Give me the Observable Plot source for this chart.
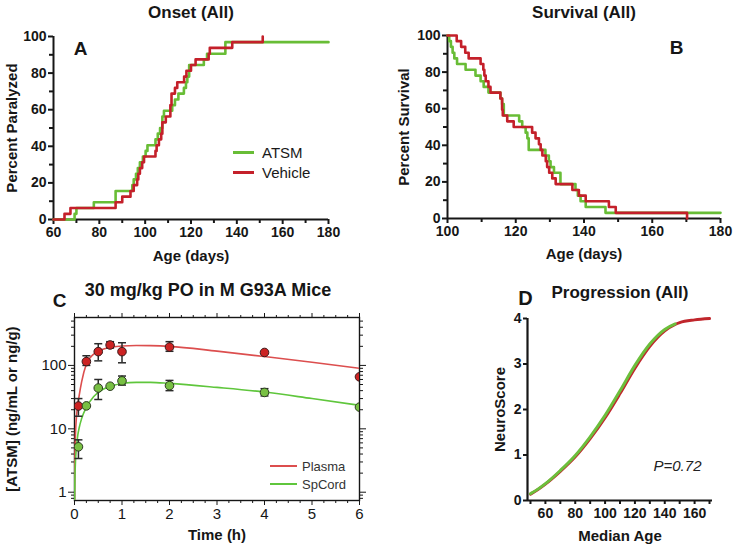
<!DOCTYPE html>
<html><head><meta charset="utf-8">
<script src="https://cdn.jsdelivr.net/npm/d3@7"></script>
<script src="https://cdn.jsdelivr.net/npm/@observablehq/plot@0.6"></script>
<style>
body{margin:0;background:#fff;font-family:"Liberation Sans",Arial,Helvetica,sans-serif;}
#fig{position:relative;width:733px;height:555px;overflow:hidden;background:#fff;}
.panel{position:absolute;}
.lg{position:absolute;display:flex;align-items:center;white-space:nowrap;height:18px;}
.lg .sw{display:inline-block;}
</style></head><body><div id="fig"></div>
<script>
// ---------- Panel A : Onset (All) ----------
const onsetTitle = "Onset (All)";
const onsetXDomain = [60, 180];
const onsetXMajor = [60, 80, 100, 120, 140, 160, 180];
const onsetXMinor = [70, 90, 110, 130, 150, 170];
const pctMajor = [0, 20, 40, 60, 80, 100];
const pctMinor = [10, 30, 50, 70, 90];
const onsetATSM = [[60,0],[69.2,3.1],[70,6.3],[77.6,9.4],[87.1,15.6],[94.4,18.8],[95,21.9],[96,25],[96.8,28.1],[97.7,31.3],[99,34.4],[100.2,37.5],[101,40.6],[104.5,43.8],[105.5,46.9],[106.5,50],[107.5,56.3],[108.2,59.4],[111.8,62.5],[113,65.6],[114.5,68.8],[116.9,71.9],[117.8,75],[118.4,78.1],[119.2,84.4],[125.6,87.5],[127,90.6],[135,96.9],[180,96.9]];
const onsetVehicle = [[60,0],[64.8,3.1],[67.4,6.3],[87.1,9.4],[90,12.5],[93.6,15.6],[95,18.8],[96.5,21.9],[97,25],[97.7,28.1],[98.7,31.3],[99.5,34.4],[104.5,37.5],[105,40.6],[106,43.8],[107,46.9],[107.5,53.1],[109,56.3],[111,62.5],[111.5,68.8],[113,71.9],[114,75],[117,78.1],[118,81.3],[120,84.4],[122,87.5],[127.7,90.6],[128.2,93.8],[138,96.9],[151.3,100]];
const groupNames = ["ATSM", "Vehicle"];

// ---------- Panel B : Survival (All) ----------
const survTitle = "Survival (All)";
const survXDomain = [100, 180];
const survXMajor = [100, 120, 140, 160, 180];
const survXMinor = [110, 130, 150, 170];
const survATSM = [[100,100],[100.5,96.9],[101,93.8],[101.5,90.6],[102,87.5],[102.8,84.4],[105.3,81.3],[108.2,78.1],[109.7,75],[110.6,71.9],[112,68.8],[115.5,65.6],[116,62.5],[116.5,56.3],[121,53.1],[121.9,50],[122.9,46.9],[123.4,43.8],[123.8,37.5],[128.7,34.4],[129.7,31.3],[130.2,28.1],[131.2,25],[133.1,18.8],[137.5,15.6],[138.2,12.5],[139,9.4],[140.5,6.3],[146.3,3.1],[180,3.1]];
const survVehicle = [[100,100],[102.7,96.9],[104,93.8],[105.2,90.6],[106.2,87.5],[109.7,84.4],[110.5,81.3],[110.8,78.1],[111.2,75],[112,71.9],[112.6,68.8],[115.5,65.6],[116,59.4],[116.2,56.3],[117.5,53.1],[119.4,50],[124.8,46.9],[125.8,43.8],[126.8,40.6],[127.3,37.5],[127.8,34.4],[128.8,31.3],[129.2,28.1],[129.8,25],[130.7,21.9],[131.7,18.8],[136.6,15.6],[138.5,12.5],[140.5,9.4],[147.3,6.3],[149.3,3.1],[170,3.1],[170.2,0]];

// ---------- Panel C : PK ----------
const pkTitle = "30 mg/kg PO in M G93A Mice";
const pkXMajor = [0, 1, 2, 3, 4, 5, 6];
const pkXMinor = [0.25,0.5,0.75,1.25,1.5,1.75,2.25,2.5,2.75,3.25,3.5,3.75,4.25,4.5,4.75,5.25,5.5,5.75];
const pkYMajor = [1, 10, 100];
const pkYMinor = [0.8,0.9,2,3,4,5,6,7,8,9,20,30,40,50,60,70,80,90,200,300,400,500];
const pkYDomain = [0.74, 570];
const pkTimes = [0.083, 0.25, 0.5, 0.75, 1, 2, 4, 6];
const plasmaMean = [22.9, 115, 165, 210, 165, 195, 160, 66];
const plasmaHi   = [30, 142, 220, 237, 228, 237, null, null];
const plasmaLo   = [15.8, 100, 118, 188, 110, 167, null, null];
const spcordMean = [5.2, 23, 44, 47, 57, 48, 37.5, 22];
const spcordHi   = [6.7, null, 60, null, 68, 58, 43, null];
const spcordLo   = [3.4, null, 29, null, 49, 40, 33, null];
const fitTimes   = [0, 0.003, 0.01, 0.02, 0.04, 0.07, 0.1, 0.15, 0.25, 0.4, 0.6, 0.8, 1, 1.3, 1.6, 2, 3, 4, 5, 6];
const plasmaFit  = [0.5, 1.5, 4, 8, 15, 24, 34, 55, 105, 150, 180, 196, 203, 206, 205, 200, 168, 138, 112, 90];
const spcordFit  = [0.5, 0.85, 1.8, 3, 5, 8, 10.5, 14.5, 22, 32, 42, 48, 52, 54, 54, 52, 45, 38, 30, 23.5];
const pkNames = ["Plasma", "SpCord"];

// ---------- Panel D : Progression ----------
const progTitle = "Progression (All)";
const progXDomain = [48, 172];
const progXMajor = [60, 80, 100, 120, 140, 160];
const progXMinor = [50, 70, 90, 110, 130, 150, 170];
const progYMajor = [0, 1, 2, 3, 4];
const progATSM = [[50,0.15],[55,0.25],[60,0.37],[70,0.66],[80,0.99],[90,1.4],[100,1.87],[110,2.41],[120,2.97],[130,3.44],[140,3.76],[147,3.88]];
const progVehicle = [[50,0.14],[55,0.24],[60,0.36],[70,0.64],[80,0.96],[90,1.36],[100,1.82],[110,2.35],[120,2.91],[130,3.39],[140,3.73],[147,3.87],[150,3.91],[160,3.97],[170,4.0]];
const progP = "P=0.72";

// ---------- styles ----------
const INK = "#161616";
const GREEN = "#68bd36";
const RED = "#c4202a";
const FONT = '"Liberation Sans", Arial, Helvetica, sans-serif';
const fig = document.getElementById("fig");

function place(node, left, top) {
  node.classList.add("panel");
  node.style.left = left + "px";
  node.style.top = top + "px";
  fig.appendChild(node);
}
function blank() { return ""; }

function kmAxes(xMajor, xMinor, x0) {
  const a = {stroke: INK, strokeWidth: 2};
  return [
    Plot.axisX(xMinor, {...a, tickSize: 4, tickFormat: blank}),
    Plot.axisX(xMajor, {...a, tickSize: 5, tickPadding: 3, fill: INK, fontSize: 14, fontWeight: "bold"}),
    Plot.axisY(pctMinor, {...a, tickSize: 4, tickFormat: blank}),
    Plot.axisY(pctMajor, {...a, tickSize: 5, tickPadding: 2, fill: INK, fontSize: 14, fontWeight: "bold"}),
    Plot.ruleX([x0], {stroke: INK, strokeWidth: 2}),
    Plot.ruleY([0], {stroke: INK, strokeWidth: 2})
  ];
}
const bold = {fontWeight: "bold", fill: INK, textAnchor: "middle", lineAnchor: "middle"};

// Panel A
const plotA = Plot.plot({
  width: 360, height: 270, marginLeft: 53, marginRight: 32, marginTop: 36, marginBottom: 51,
  style: {fontFamily: FONT, background: "transparent", overflow: "visible"},
  x: {domain: onsetXDomain, label: null}, y: {domain: [0, 100], label: null},
  marks: [
    ...kmAxes(onsetXMajor, onsetXMinor, onsetXDomain[0]),
    Plot.line(onsetATSM, {x: d => d[0], y: d => d[1], curve: "step-after", stroke: GREEN, strokeWidth: 2.6}),
    Plot.line(onsetVehicle, {x: d => d[0], y: d => d[1], curve: "step-after", stroke: RED, strokeWidth: 2.6}),
    Plot.text([onsetTitle], {...bold, frameAnchor: "top", dy: -24, fontSize: 17}),
    Plot.text(["A"], {...bold, frameAnchor: "top-left", dx: 27, dy: 12, fontSize: 19}),
    Plot.text(["Percent Paralyzed"], {...bold, frameAnchor: "left", dx: -41, rotate: -90, fontSize: 15}),
    Plot.text(["Age (days)"], {...bold, frameAnchor: "bottom", dy: 37, fontSize: 15})
  ]
});
place(plotA, 0, 0);

// Panel B
const plotB = Plot.plot({
  width: 373, height: 270, marginLeft: 87, marginRight: 13, marginTop: 35, marginBottom: 52,
  style: {fontFamily: FONT, background: "transparent", overflow: "visible"},
  x: {domain: survXDomain, label: null}, y: {domain: [0, 100], label: null},
  marks: [
    ...kmAxes(survXMajor, survXMinor, survXDomain[0]),
    Plot.line(survATSM, {x: d => d[0], y: d => d[1], curve: "step-after", stroke: GREEN, strokeWidth: 2.6}),
    Plot.line(survVehicle, {x: d => d[0], y: d => d[1], curve: "step-after", stroke: RED, strokeWidth: 2.6}),
    Plot.text([survTitle], {...bold, frameAnchor: "top", dy: -23, fontSize: 17}),
    Plot.text(["B"], {...bold, frameAnchor: "top-left", dx: 229, dy: 12, fontSize: 19}),
    Plot.text(["Percent Survival"], {...bold, frameAnchor: "left", dx: -43, rotate: -90, fontSize: 15}),
    Plot.text(["Age (days)"], {...bold, frameAnchor: "bottom", dy: 36, fontSize: 15})
  ]
});
place(plotB, 360, 0);

// Panel C
const capSymbol = {draw(ctx, size) { const r = Math.sqrt(size / Math.PI); ctx.moveTo(-r, 0); ctx.lineTo(r, 0); }};
const plasmaPts = pkTimes.map((t, i) => ({t, v: plasmaMean[i], hi: plasmaHi[i], lo: plasmaLo[i]}));
const spcordPts = pkTimes.map((t, i) => ({t, v: spcordMean[i], hi: spcordHi[i], lo: spcordLo[i]}));
const plasmaCurve = fitTimes.map((t, i) => ({t, v: plasmaFit[i]}));
const spcordCurve = fitTimes.map((t, i) => ({t, v: spcordFit[i]}));
const errs = plasmaPts.concat(spcordPts).filter(d => d.hi != null);
const ca = {stroke: INK, strokeWidth: 1};
const plotC = Plot.plot({
  width: 370, height: 275, marginLeft: 74, marginRight: 11, marginTop: 37, marginBottom: 55,
  style: {fontFamily: FONT, background: "transparent", overflow: "visible"},
  x: {domain: [0, 6], label: null}, y: {type: "log", domain: pkYDomain, label: null},
  marks: [
    Plot.axisX(pkXMinor, {...ca, tickSize: 3, tickFormat: blank}),
    Plot.axisX(pkXMajor, {...ca, tickSize: 5, tickPadding: 3, fill: INK, fontSize: 15, tickFormat: d => String(d)}),
    Plot.axisX(pkXMinor, {...ca, anchor: "top", tickSize: 3, tickFormat: blank}),
    Plot.axisX(pkXMajor, {...ca, anchor: "top", tickSize: 5, tickFormat: blank}),
    Plot.axisY(pkYMinor, {...ca, tickSize: 3, tickFormat: blank}),
    Plot.axisY(pkYMajor, {...ca, tickSize: 6, tickPadding: 2, fill: INK, fontSize: 15, tickFormat: d => String(d)}),
    Plot.axisY(pkYMinor, {...ca, anchor: "right", tickSize: 3, tickFormat: blank}),
    Plot.axisY(pkYMajor, {...ca, anchor: "right", tickSize: 6, tickFormat: blank}),
    Plot.frame({stroke: INK, strokeWidth: 1.4}),
    Plot.line(plasmaCurve, {x: "t", y: "v", curve: "monotone-x", stroke: "#dc4e4e", strokeWidth: 1.6, clip: true}),
    Plot.line(spcordCurve, {x: "t", y: "v", curve: "monotone-x", stroke: "#5fc63c", strokeWidth: 1.6, clip: true}),
    Plot.ruleX(errs, {x: "t", y1: "lo", y2: "hi", stroke: "#2a2a2a", strokeWidth: 1.5}),
    Plot.dot(errs, {x: "t", y: "hi", symbol: capSymbol, r: 4, stroke: "#2a2a2a", strokeWidth: 1.5, fill: "none"}),
    Plot.dot(errs, {x: "t", y: "lo", symbol: capSymbol, r: 4, stroke: "#2a2a2a", strokeWidth: 1.5, fill: "none"}),
    Plot.dot(plasmaPts, {x: "t", y: "v", r: 4.3, fill: "#cc2323", stroke: "#3a1a1a", strokeWidth: 1, clip: true}),
    Plot.dot(spcordPts, {x: "t", y: "v", r: 4.3, fill: "#78c043", stroke: "#2b3a20", strokeWidth: 1, clip: true}),
    Plot.text([pkTitle], {...bold, frameAnchor: "top", dx: -9, dy: -27, fontSize: 18}),
    Plot.text(["C"], {...bold, frameAnchor: "top-left", dx: -15, dy: -17, fontSize: 19}),
    Plot.text(["[ATSM] (ng/mL or ng/g)"], {...bold, frameAnchor: "left", dx: -62, rotate: -90, fontSize: 15}),
    Plot.text(["Time (h)"], {...bold, frameAnchor: "bottom", dy: 35, fontSize: 15})
  ]
});
place(plotC, 0, 280);

// Panel D
const da = {stroke: INK, strokeWidth: 2};
const plotD = Plot.plot({
  width: 363, height: 275, marginLeft: 157, marginRight: 21, marginTop: 38, marginBottom: 55,
  style: {fontFamily: FONT, background: "transparent", overflow: "visible"},
  x: {domain: progXDomain, label: null}, y: {domain: [0, 4], label: null},
  marks: [
    Plot.axisX(progXMinor, {...da, tickSize: 4, tickFormat: blank}),
    Plot.axisX(progXMajor, {...da, tickSize: 4, tickPadding: 4, fill: INK, fontSize: 14, fontWeight: "bold"}),
    Plot.axisY(progYMajor, {...da, tickSize: 4, tickPadding: 2, fill: INK, fontSize: 14, fontWeight: "bold"}),
    Plot.ruleX([progXDomain[0]], {stroke: INK, strokeWidth: 2.2}),
    Plot.ruleY([0], {stroke: INK, strokeWidth: 2.2}),
    Plot.line(progVehicle, {x: d => d[0], y: d => d[1], curve: "monotone-x", stroke: "#c0262c", strokeWidth: 3}),
    Plot.line(progATSM, {x: d => d[0], y: d => d[1], curve: "monotone-x", stroke: "#6cbf3c", strokeWidth: 3}),
    Plot.text([progTitle], {...bold, frameAnchor: "top", dx: 0, dy: -26, fontSize: 17}),
    Plot.text(["D"], {...bold, frameAnchor: "top-left", dx: -2, dy: -20, fontSize: 20}),
    Plot.text(["NeuroScore"], {...bold, frameAnchor: "left", dx: -27, rotate: -90, fontSize: 15}),
    Plot.text(["Median Age"], {...bold, frameAnchor: "bottom", dy: 36, fontSize: 15}),
    Plot.text([progP], {frameAnchor: "top-left", dx: 150, dy: 148, fontSize: 15, fontStyle: "italic", fill: "#222", textAnchor: "middle", lineAnchor: "middle"})
  ]
});
place(plotD, 370, 280);

// Legends
function legendRow(label, color, left, top, swW, swH, gap, fontSize, textColor) {
  const row = document.createElement("div");
  row.className = "lg";
  row.style.left = left + "px";
  row.style.top = (top - 9) + "px";
  row.style.fontSize = fontSize + "px";
  row.style.color = textColor;
  const sw = document.createElement("span");
  sw.className = "sw";
  sw.style.width = swW + "px";
  sw.style.height = swH + "px";
  sw.style.background = color;
  sw.style.marginRight = gap + "px";
  const tx = document.createElement("span");
  tx.textContent = label;
  row.appendChild(sw); row.appendChild(tx);
  fig.appendChild(row);
}
legendRow(groupNames[0], GREEN, 233, 152, 21, 3, 8, 15, "#1a1a1a");
legendRow(groupNames[1], RED, 233, 172, 21, 3, 8, 15, "#1a1a1a");
legendRow(pkNames[0], "#dc4e4e", 270, 466, 27, 1.6, 5, 13, "#333");
legendRow(pkNames[1], "#5fc63c", 270, 484, 27, 1.6, 5, 13, "#333");
</script></body></html>
